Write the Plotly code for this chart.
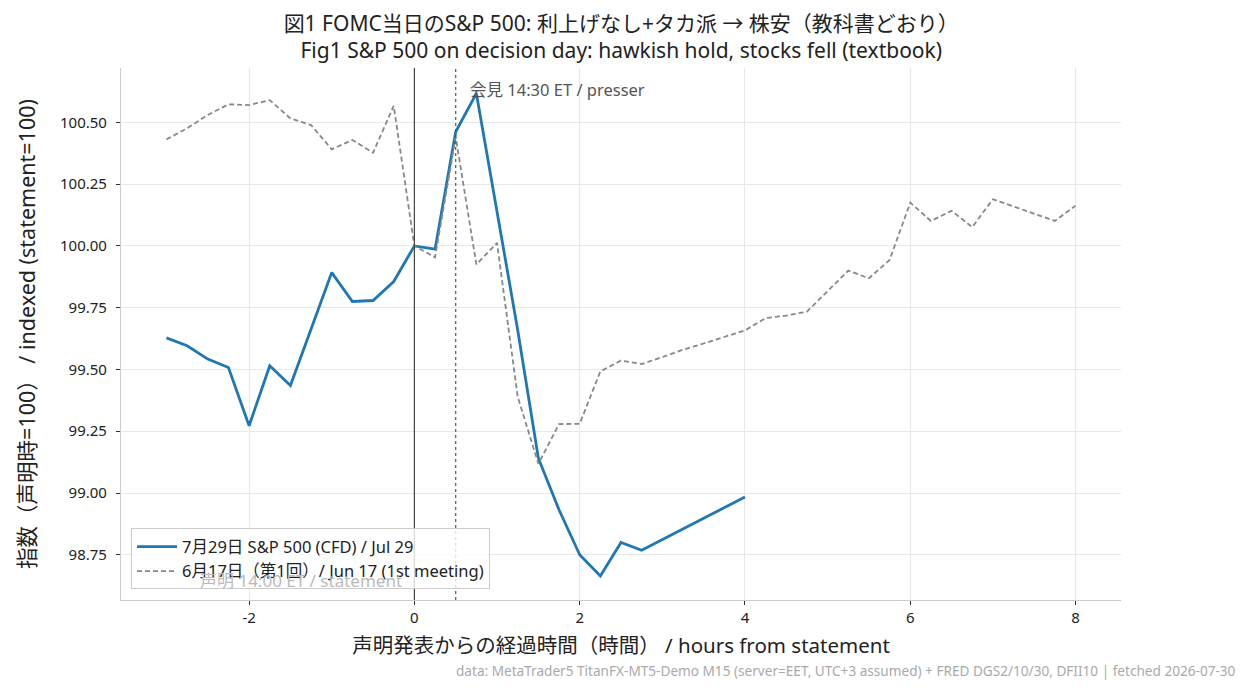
import plotly.graph_objects as go

FONT = "Noto Sans, Noto Sans CJK JP"

# Jul 29 (blue)
jul_x = [-3, -2.75, -2.5, -2.25, -2, -1.75, -1.5, -1.25, -1, -0.75, -0.5, -0.25,
         0, 0.25, 0.5, 0.75, 1, 1.25, 1.5, 1.75, 2, 2.25, 2.5, 2.75, 4]
jul_y = [99.628, 99.596, 99.542, 99.508, 99.272, 99.515, 99.435, 99.66, 99.892, 99.775,
         99.779, 99.856, 100.0, 99.987, 100.462, 100.617, 100.137, 99.66, 99.141, 98.932,
         98.75, 98.664, 98.80, 98.768, 98.984]

# Jun 17 (gray dashed)
jun_x = [-3, -2.75, -2.5, -2.25, -2, -1.75, -1.5, -1.25, -1, -0.75, -0.5, -0.25,
         0, 0.25, 0.5, 0.75, 1, 1.25, 1.5, 1.75, 2, 2.25, 2.5, 2.75, 3, 3.25, 3.5, 3.75,
         4, 4.25, 4.5, 4.75, 5, 5.25, 5.5, 5.75, 6, 6.25, 6.5, 6.75, 7, 7.25, 7.5, 7.75, 8]
jun_y = [100.431, 100.476, 100.530, 100.573, 100.570, 100.590, 100.516, 100.489, 100.391,
         100.429, 100.377, 100.567, 100.00, 99.954, 100.44, 99.925, 100.012, 99.39, 99.118,
         99.279, 99.280, 99.492, 99.536, 99.522, 99.55, 99.58, 99.605, 99.63, 99.658,
         99.708, 99.718, 99.734, 99.817, 99.900, 99.869, 99.943, 100.175, 100.101, 100.142,
         100.076, 100.189, 100.159, 100.129, 100.101, 100.163]

x_ticks = [-2, 0, 2, 4, 6, 8]
y_ticks = [98.75, 99.0, 99.25, 99.5, 99.75, 100.0, 100.25, 100.5]

title_jp = "図1 FOMC当日のS&P 500: 利上げなし+タカ派 → 株安（教科書どおり）"
title_en = "Fig1 S&P 500 on decision day: hawkish hold, stocks fell (textbook)"
name_jul = "7月29日 S&P 500 (CFD) / Jul 29"
name_jun = "6月17日（第1回）/ Jun 17 (1st meeting)"
xlabel = "声明発表からの経過時間（時間） / hours from statement"
ylabel = "指数（声明時=100） / indexed (statement=100)"
note_statement = "声明 14:00 ET / statement"
note_presser = "会見 14:30 ET / presser"
footer = ("data: MetaTrader5 TitanFX-MT5-Demo M15 (server=EET, UTC+3 assumed) + "
          "FRED DGS2/10/30, DFII10 | fetched 2026-07-30")

fig = go.Figure()
fig.add_trace(go.Scatter(x=jul_x, y=jul_y, mode="lines", name=name_jul,
                         line=dict(color="#1f77b4", width=2.8)))
fig.add_trace(go.Scatter(x=jun_x, y=jun_y, mode="lines", name=name_jun,
                         line=dict(color="#888888", width=1.8, dash="5px,3px")))

fig.add_vline(x=0, line=dict(color="#444444", width=1.2))
fig.add_vline(x=0.5, line=dict(color="#555555", width=1.2, dash="dot"))

fig.add_annotation(x=0.5, y=1, xref="x", yref="paper", yshift=-21, xshift=12,
                   text=note_presser, showarrow=False, xanchor="left", yanchor="middle",
                   font=dict(family=FONT, size=16.5, color="#555555"))
fig.add_annotation(x=0, y=0, xref="x", yref="paper", yshift=20, xshift=-10,
                   text=note_statement, showarrow=False, xanchor="right", yanchor="middle",
                   font=dict(family=FONT, size=17, color="#bbbbbb"))
fig.add_annotation(x=1, y=0, xref="paper", yref="paper", xanchor="right", yanchor="middle",
                   xshift=117, yshift=-70, text=footer, showarrow=False,
                   font=dict(family=FONT, size=13.6, color="#aaaaaa"))

fig.update_layout(
    width=1252, height=688,
    margin=dict(l=121, r=131, t=68, b=88),
    paper_bgcolor="white", plot_bgcolor="white",
    font=dict(family=FONT, size=15, color="#222222"),
    title=dict(text=title_jp + "<br>" + title_en, x=0.4962, xanchor="center",
               y=0.955, yanchor="top", font=dict(family=FONT, size=21, color="#222222")),
    legend=dict(x=0.01, y=0.02, xanchor="left", yanchor="bottom",
                bgcolor="rgba(255,255,255,0.8)", bordercolor="#cccccc", borderwidth=1,
                font=dict(family=FONT, size=16.5, color="#222222"),
                tracegroupgap=2, itemwidth=40),
    showlegend=True,
)
fig.update_xaxes(range=[-3.55, 8.55], tickvals=x_ticks, ticktext=[str(v) for v in x_ticks],
                 showgrid=True, gridcolor="#e8e8e8", gridwidth=1,
                 showline=True, linecolor="#cccccc", linewidth=1.2, mirror=False,
                 ticks="outside", ticklen=4, tickcolor="#333333", zeroline=False,
                 tickfont=dict(family=FONT, size=15),
                 title=dict(text=xlabel, font=dict(family=FONT, size=20.5), standoff=12))
fig.update_yaxes(range=[98.567, 100.72], tickvals=y_ticks, tickformat=".2f",
                 showgrid=True, gridcolor="#e8e8e8", gridwidth=1,
                 showline=True, linecolor="#cccccc", linewidth=1.2, mirror=False,
                 ticks="outside", ticklen=4, tickcolor="#333333", zeroline=False,
                 tickfont=dict(family=FONT, size=15), ticklabelstandoff=6,
                 title=dict(text=ylabel, font=dict(family=FONT, size=21.5), standoff=18))

fig.write_html("out.html")
